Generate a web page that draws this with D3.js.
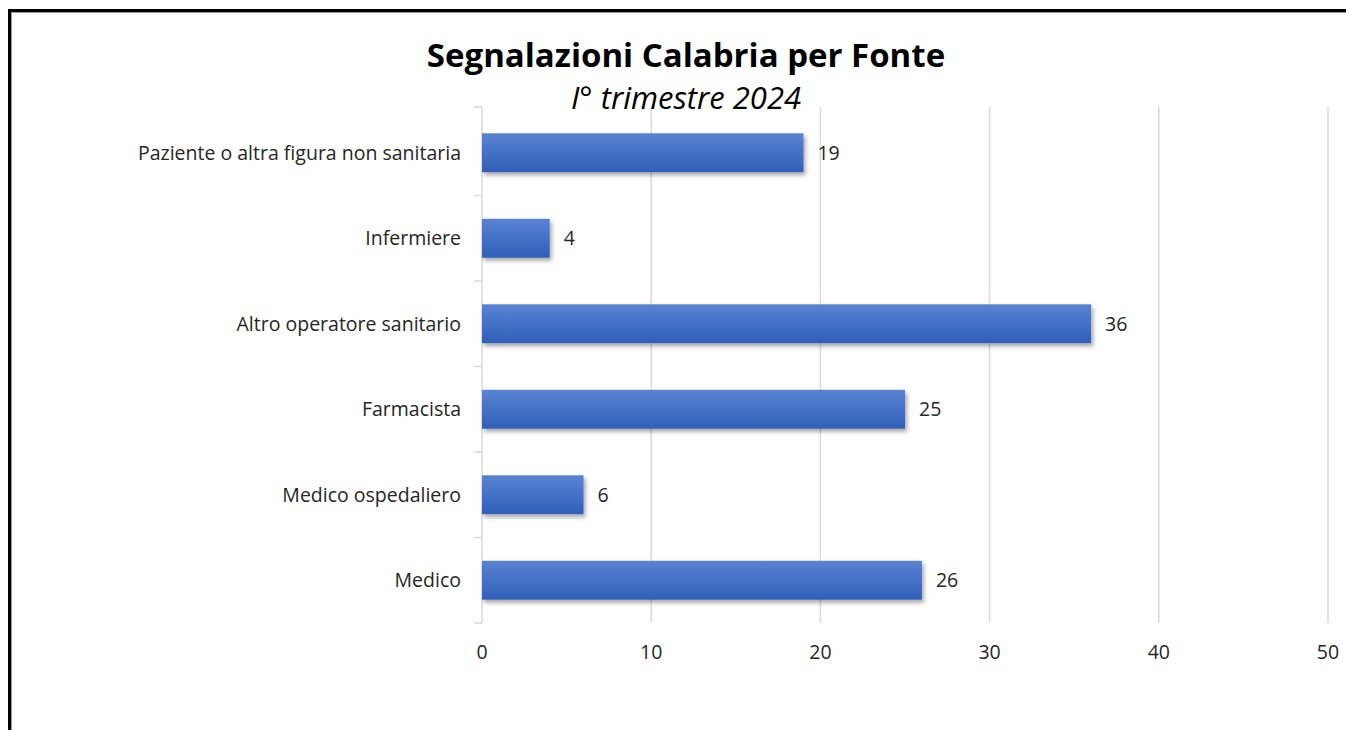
<!DOCTYPE html>
<html>
<head>
<meta charset="utf-8">
<script src="https://cdn.jsdelivr.net/npm/d3@7"></script>
<style>
  body { margin: 0; background: #fff; }
  svg { display: block; font-family: "Open Sans", "Liberation Sans", sans-serif; }
</style>
</head>
<body>
<svg id="chart"></svg>
<script>
// categories listed top to bottom
const categories = [
  "Paziente o altra figura non sanitaria",
  "Infermiere",
  "Altro operatore sanitario",
  "Farmacista",
  "Medico ospedaliero",
  "Medico"
];
const values = [19, 4, 36, 25, 6, 26];
const xTicks = [0, 10, 20, 30, 40, 50];

const width = 1346, height = 730;
const margin = { top: 110, left: 482, right: 18, bottom: 107 };

const svg = d3.select("#chart")
  .attr("width", width)
  .attr("height", height);

// outer frame (right and bottom edges go off screen)
svg.append("rect")
  .attr("x", 9.5).attr("y", 10.5)
  .attr("width", 1360).attr("height", 760)
  .attr("fill", "none")
  .attr("stroke", "#000")
  .attr("stroke-width", 3);
svg.append("rect")
  .attr("x", 11.5).attr("y", 12.5)
  .attr("width", 1360).attr("height", 760)
  .attr("fill", "none")
  .attr("stroke", "#999")
  .attr("stroke-width", 1);

const defs = svg.append("defs");
const grad = defs.append("linearGradient")
  .attr("id", "barGrad")
  .attr("x1", 0).attr("y1", 0).attr("x2", 0).attr("y2", 1);
grad.append("stop").attr("offset", "0%").attr("stop-color", "#5a83d2");
grad.append("stop").attr("offset", "100%").attr("stop-color", "#2f5fb9");

const shadow = defs.append("filter")
  .attr("id", "shadow")
  .attr("x", "-5%").attr("y", "-20%")
  .attr("width", "115%").attr("height", "160%");
shadow.append("feDropShadow")
  .attr("dx", 2).attr("dy", 3)
  .attr("stdDeviation", 2)
  .attr("flood-color", "#000")
  .attr("flood-opacity", 0.35);

const x = d3.scaleLinear()
  .domain([0, 50])
  .range([margin.left, width - margin.right]);

const y = d3.scaleBand()
  .domain(categories)
  .range([margin.top, height - margin.bottom])
  .paddingInner(0.545)
  .paddingOuter(0.2725);

// vertical gridlines
svg.append("g")
  .selectAll("line")
  .data(xTicks.slice(1))
  .join("line")
    .attr("x1", d => x(d)).attr("x2", d => x(d))
    .attr("y1", margin.top - 3).attr("y2", height - margin.bottom)
    .attr("stroke", "#d9d9d9")
    .attr("stroke-width", 1.5);

// category axis line and ticks at band boundaries
const boundaries = categories.map(c => y(c) - y.step() * y.paddingInner() / 2)
  .concat([height - margin.bottom]);
boundaries[0] = margin.top - 3;
svg.append("line")
  .attr("x1", x(0)).attr("x2", x(0))
  .attr("y1", margin.top - 3).attr("y2", height - margin.bottom)
  .attr("stroke", "#d9d9d9")
  .attr("stroke-width", 1.5);
svg.append("g")
  .selectAll("line")
  .data(boundaries)
  .join("line")
    .attr("x1", x(0) - 8).attr("x2", x(0))
    .attr("y1", d => d).attr("y2", d => d)
    .attr("stroke", "#d9d9d9")
    .attr("stroke-width", 1.5);

// bars
svg.append("g")
  .selectAll("rect")
  .data(values)
  .join("rect")
    .attr("x", x(0))
    .attr("y", (d, i) => y(categories[i]))
    .attr("width", d => x(d) - x(0))
    .attr("height", y.bandwidth())
    .attr("fill", "url(#barGrad)")
    .attr("filter", "url(#shadow)");

// value labels
svg.append("g")
  .selectAll("text")
  .data(values)
  .join("text")
    .attr("x", d => x(d) + 14)
    .attr("y", (d, i) => y(categories[i]) + y.bandwidth() / 2)
    .attr("dy", "0.35em")
    .attr("font-size", 19.5)
    .attr("fill", "#262626")
    .text(d => d);

// category labels
svg.append("g")
  .selectAll("text")
  .data(categories)
  .join("text")
    .attr("x", x(0) - 21)
    .attr("y", d => y(d) + y.bandwidth() / 2)
    .attr("dy", "0.35em")
    .attr("text-anchor", "end")
    .attr("font-size", 19.5)
    .attr("fill", "#262626")
    .text(d => d);

// x tick labels
svg.append("g")
  .selectAll("text")
  .data(xTicks)
  .join("text")
    .attr("x", d => x(d))
    .attr("y", 659)
    .attr("text-anchor", "middle")
    .attr("font-size", 19.5)
    .attr("fill", "#262626")
    .text(d => d);

// titles
svg.append("text")
  .attr("x", 686).attr("y", 67)
  .attr("text-anchor", "middle")
  .attr("font-size", 33)
  .attr("font-weight", "bold")
  .attr("fill", "#000")
  .text("Segnalazioni Calabria per Fonte");
svg.append("text")
  .attr("x", 686).attr("y", 109)
  .attr("text-anchor", "middle")
  .attr("font-size", 31)
  .attr("font-style", "italic")
  .attr("fill", "#000")
  .text("I° trimestre 2024");
</script>
</body>
</html>
